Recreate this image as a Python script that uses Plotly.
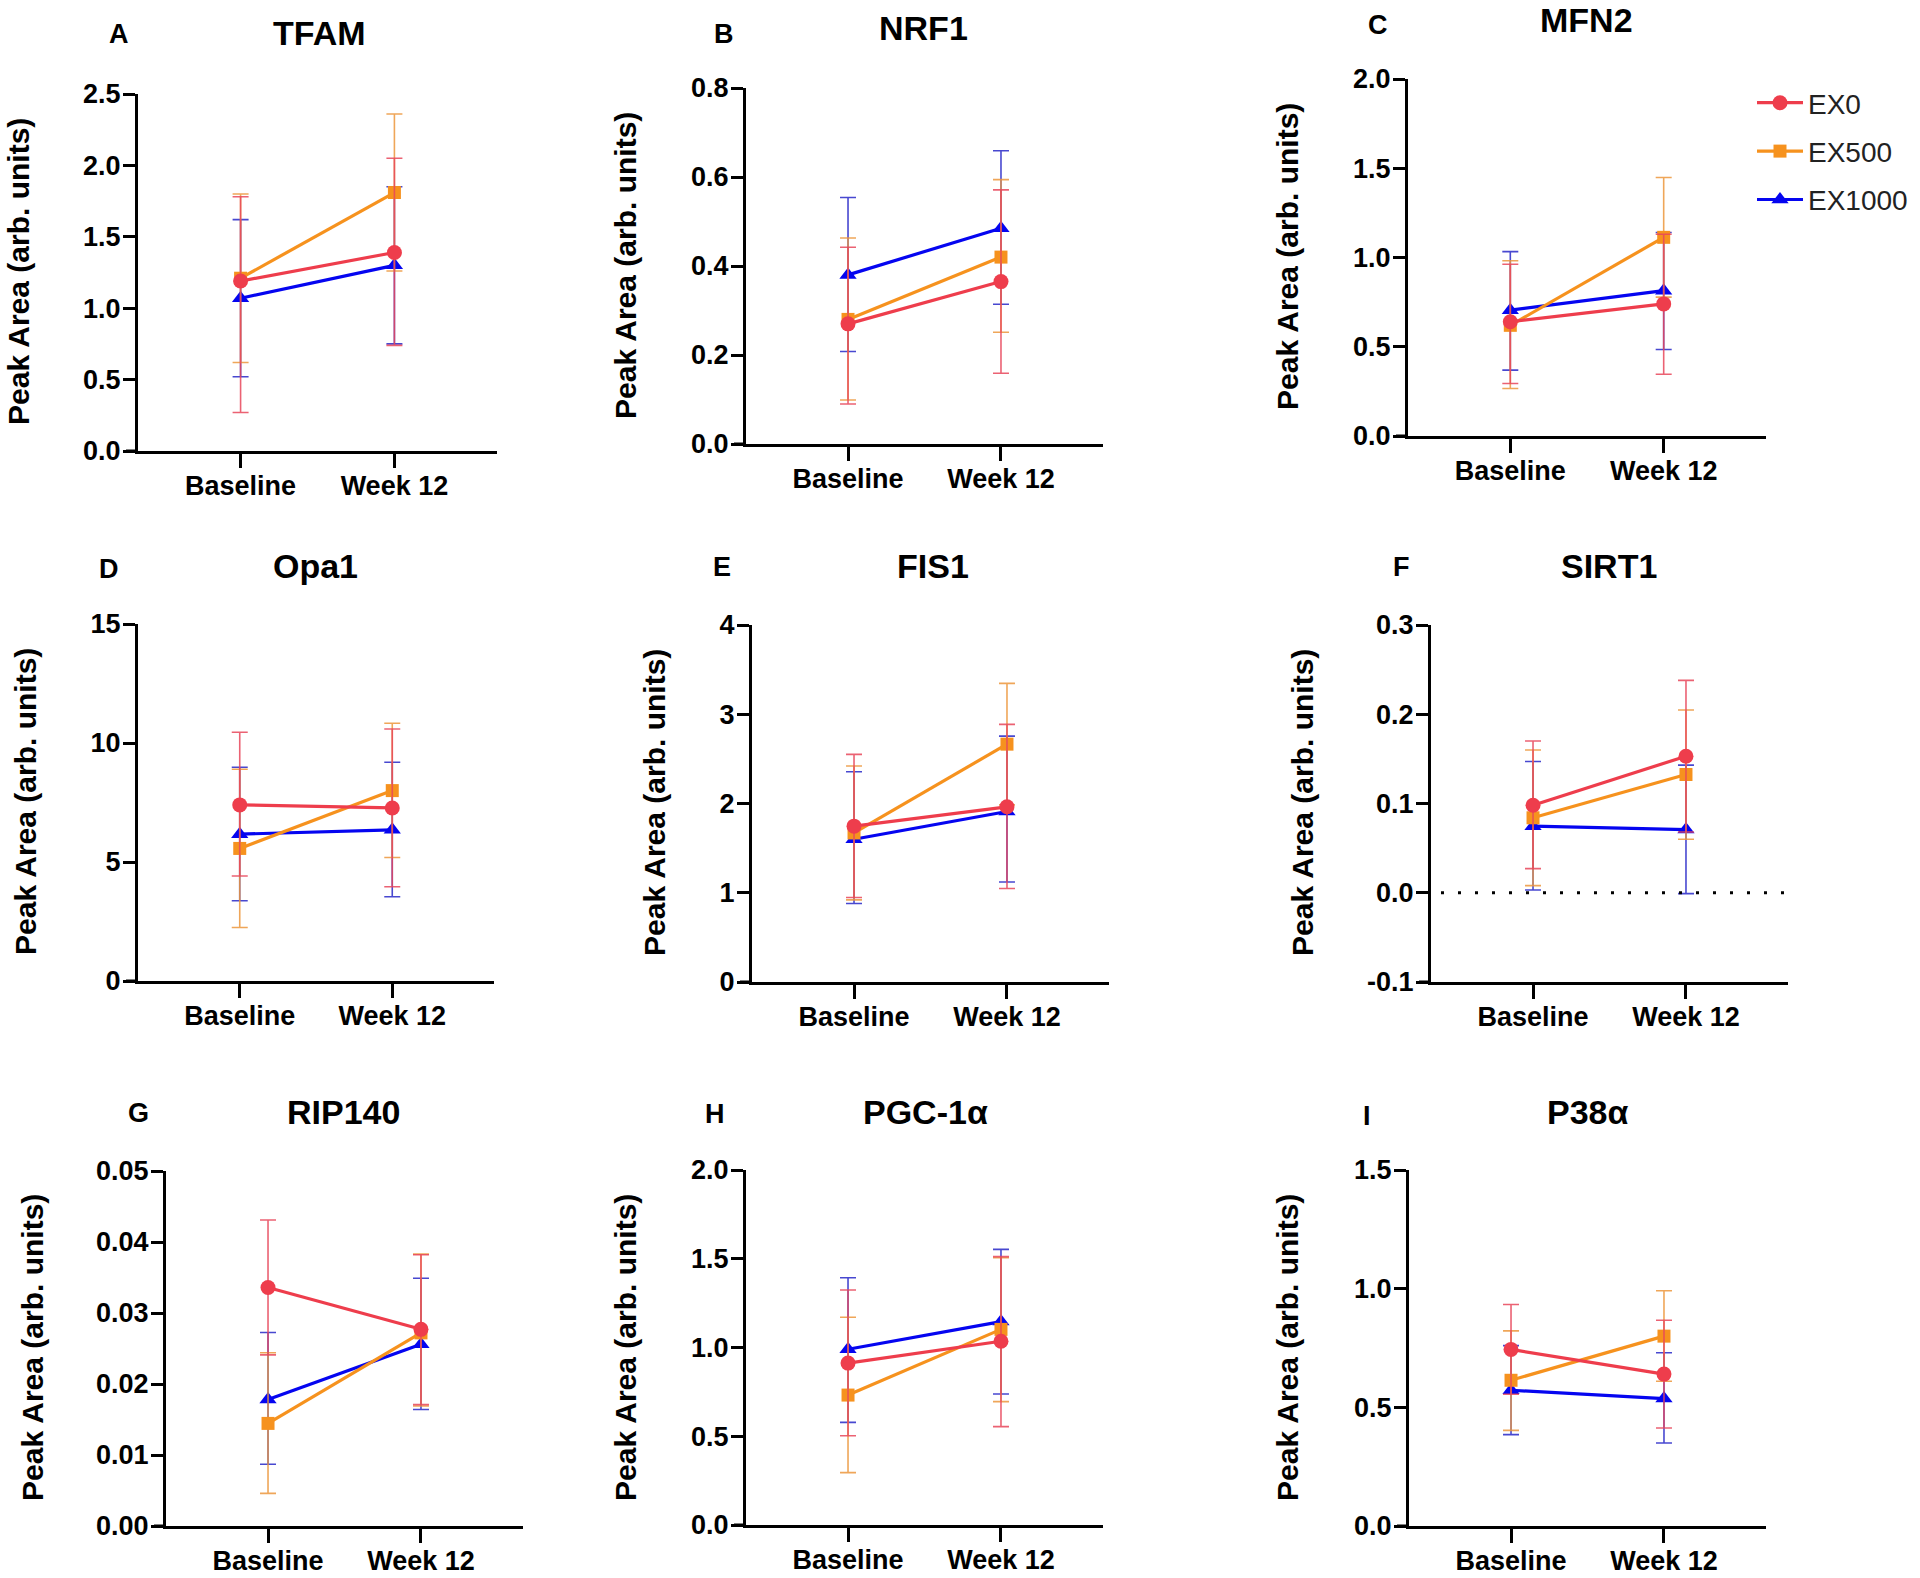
import plotly.graph_objects as go

W, H = 1920, 1578

# ---------------- data ----------------
time_points = ["Baseline", "Week 12"]
series_names = ["EX0", "EX500", "EX1000"]
panel_letters = ["A", "B", "C", "D", "E", "F", "G", "H", "I"]
panel_titles = ["TFAM", "NRF1", "MFN2", "Opa1", "FIS1", "SIRT1", "RIP140", "PGC-1α", "P38α"]

# mean values [Baseline, Week 12]; upper/lower = ends of the error bars
tfam_mean = {"EX0": [1.19, 1.39], "EX500": [1.21, 1.81], "EX1000": [1.07, 1.30]}
tfam_upper = {"EX0": [1.78, 2.05], "EX500": [1.80, 2.36], "EX1000": [1.62, 1.85]}
tfam_lower = {"EX0": [0.27, 0.74], "EX500": [0.62, 1.26], "EX1000": [0.52, 0.75]}

nrf1_mean = {"EX0": [0.27, 0.365], "EX500": [0.28, 0.42], "EX1000": [0.38, 0.485]}
nrf1_upper = {"EX0": [0.442, 0.571], "EX500": [0.463, 0.594], "EX1000": [0.554, 0.659]}
nrf1_lower = {"EX0": [0.09, 0.159], "EX500": [0.099, 0.251], "EX1000": [0.208, 0.314]}

mfn2_mean = {"EX0": [0.64, 0.74], "EX500": [0.62, 1.113], "EX1000": [0.705, 0.814]}
mfn2_upper = {"EX0": [0.962, 1.13], "EX500": [0.982, 1.448], "EX1000": [1.033, 1.14]}
mfn2_lower = {"EX0": [0.294, 0.346], "EX500": [0.266, 0.778], "EX1000": [0.369, 0.485]}

opa1_mean = {"EX0": [7.4, 7.27], "EX500": [5.57, 8.0], "EX1000": [6.17, 6.35]}
opa1_upper = {"EX0": [10.45, 10.59], "EX500": [8.9, 10.83], "EX1000": [8.98, 9.19]}
opa1_lower = {"EX0": [4.41, 3.96], "EX500": [2.25, 5.19], "EX1000": [3.37, 3.54]}

fis1_mean = {"EX0": [1.746, 1.963], "EX500": [1.67, 2.665], "EX1000": [1.60, 1.91]}
fis1_upper = {"EX0": [2.55, 2.886], "EX500": [2.42, 3.346], "EX1000": [2.355, 2.755]}
fis1_lower = {"EX0": [0.946, 1.047], "EX500": [0.92, 1.985], "EX1000": [0.88, 1.121]}

sirt1_mean = {"EX0": [0.098, 0.153], "EX500": [0.084, 0.1325], "EX1000": [0.0746, 0.0708]}
sirt1_upper = {"EX0": [0.170, 0.238], "EX500": [0.160, 0.2047], "EX1000": [0.147, 0.143]}
sirt1_lower = {"EX0": [0.027, 0.068], "EX500": [0.008, 0.060], "EX1000": [0.003, -0.001]}

rip140_mean = {"EX0": [0.0336, 0.0277], "EX500": [0.01445, 0.0272], "EX1000": [0.0178, 0.0256]}
rip140_upper = {"EX0": [0.0431, 0.0382], "EX500": [0.0244, 0.0383], "EX1000": [0.02725, 0.0349]}
rip140_lower = {"EX0": [0.0241, 0.0171], "EX500": [0.0046, 0.0169], "EX1000": [0.0087, 0.0164]}

pgc1a_mean = {"EX0": [0.912, 1.035], "EX500": [0.732, 1.102], "EX1000": [0.99, 1.146]}
pgc1a_upper = {"EX0": [1.324, 1.512], "EX500": [1.17, 1.506], "EX1000": [1.393, 1.553]}
pgc1a_lower = {"EX0": [0.503, 0.554], "EX500": [0.295, 0.695], "EX1000": [0.578, 0.738]}

p38a_mean = {"EX0": [0.744, 0.64], "EX500": [0.614, 0.80], "EX1000": [0.572, 0.537]}
p38a_upper = {"EX0": [0.933, 0.867], "EX500": [0.822, 0.991], "EX1000": [0.76, 0.73]}
p38a_lower = {"EX0": [0.555, 0.413], "EX500": [0.403, 0.61], "EX1000": [0.385, 0.35]}

# y-axis ticks
tfam_ticks = [0, 0.5, 1.0, 1.5, 2.0, 2.5]
tfam_ticklabels = ["0.0", "0.5", "1.0", "1.5", "2.0", "2.5"]
nrf1_ticks = [0, 0.2, 0.4, 0.6, 0.8]
nrf1_ticklabels = ["0.0", "0.2", "0.4", "0.6", "0.8"]
mfn2_ticks = [0, 0.5, 1.0, 1.5, 2.0]
mfn2_ticklabels = ["0.0", "0.5", "1.0", "1.5", "2.0"]
opa1_ticks = [0, 5, 10, 15]
opa1_ticklabels = ["0", "5", "10", "15"]
fis1_ticks = [0, 1, 2, 3, 4]
fis1_ticklabels = ["0", "1", "2", "3", "4"]
sirt1_ticks = [-0.1, 0.0, 0.1, 0.2, 0.3]
sirt1_ticklabels = ["-0.1", "0.0", "0.1", "0.2", "0.3"]
rip140_ticks = [0, 0.01, 0.02, 0.03, 0.04, 0.05]
rip140_ticklabels = ["0.00", "0.01", "0.02", "0.03", "0.04", "0.05"]
pgc1a_ticks = [0, 0.5, 1.0, 1.5, 2.0]
pgc1a_ticklabels = ["0.0", "0.5", "1.0", "1.5", "2.0"]
p38a_ticks = [0, 0.5, 1.0, 1.5]
p38a_ticklabels = ["0.0", "0.5", "1.0", "1.5"]

panels = [
    (tfam_mean, tfam_upper, tfam_lower, tfam_ticks, tfam_ticklabels),
    (nrf1_mean, nrf1_upper, nrf1_lower, nrf1_ticks, nrf1_ticklabels),
    (mfn2_mean, mfn2_upper, mfn2_lower, mfn2_ticks, mfn2_ticklabels),
    (opa1_mean, opa1_upper, opa1_lower, opa1_ticks, opa1_ticklabels),
    (fis1_mean, fis1_upper, fis1_lower, fis1_ticks, fis1_ticklabels),
    (sirt1_mean, sirt1_upper, sirt1_lower, sirt1_ticks, sirt1_ticklabels),
    (rip140_mean, rip140_upper, rip140_lower, rip140_ticks, rip140_ticklabels),
    (pgc1a_mean, pgc1a_upper, pgc1a_lower, pgc1a_ticks, pgc1a_ticklabels),
    (p38a_mean, p38a_upper, p38a_lower, p38a_ticks, p38a_ticklabels),
]

# ---------------- styling / layout ----------------
colors = {"EX0": "#EE3D4C", "EX500": "#F6921E", "EX1000": "#0505F0"}
err_colors = {"EX0": "rgba(232,70,90,0.85)", "EX500": "rgba(236,150,60,0.85)",
              "EX1000": "rgba(40,40,200,0.85)"}
symbols = {"EX0": "circle", "EX500": "square", "EX1000": "triangle-up"}
msizes = {"EX0": 15, "EX500": 13, "EX1000": 15}
draw_order = ["EX1000", "EX500", "EX0"]
legend_rank = {"EX0": 1, "EX500": 2, "EX1000": 3}

# plot-area pixel boxes: left, top, right, bottom
boxes = [
    (138, 94, 497, 451), (746, 88, 1103, 444), (1408, 79, 1766, 436),
    (138, 624, 494, 981), (752, 625, 1109, 982), (1431, 625, 1788, 982),
    (166, 1171, 523, 1526), (746, 1170, 1103, 1525), (1409, 1170, 1766, 1526),
]
title_pos = [(319, 33), (923, 28), (1586, 20), (315, 566), (933, 566), (1609, 566),
             (343, 1112), (925, 1112), (1587, 1112)]
letter_pos = [(119, 34), (724, 34), (1378, 25), (109, 569), (722, 567), (1401, 567),
              (138, 1113), (715, 1114), (1367, 1116)]
ytitle_pos = [(18, 272), (625, 266), (1287, 257), (25, 802), (654, 803), (1302, 803),
              (32, 1348), (625, 1348), (1287, 1348)]

FONT = "Liberation Sans, Arial, sans-serif"
XRANGE = [-0.667, 1.667]

fig = go.Figure()
annotations = []
shapes = []

for i, (mean, upper, lower, ticks, ticklabels) in enumerate(panels):
    k = i + 1
    xa = "x" if k == 1 else f"x{k}"
    ya = "y" if k == 1 else f"y{k}"
    for s in draw_order:
        m = mean[s]
        up = [u - v for u, v in zip(upper[s], m)]
        dn = [v - l for v, l in zip(m, lower[s])]
        fig.add_trace(go.Scatter(
            x=time_points, y=m, mode="lines+markers", name=s,
            legendgroup=s, legendrank=legend_rank[s], showlegend=(k == 1),
            xaxis=xa, yaxis=ya,
            line=dict(color=colors[s], width=3.2),
            marker=dict(color=colors[s], symbol=symbols[s], size=msizes[s]),
            error_y=dict(type="data", symmetric=False, array=up, arrayminus=dn,
                         color=err_colors[s], thickness=1.6, width=8),
            cliponaxis=False,
        ))

    L, T, R, B = boxes[i]
    xdom = [L / W, R / W]
    ydom = [1 - B / H, 1 - T / H]
    axis_common = dict(showline=True, linewidth=3, linecolor="black", ticks="outside",
                       tickwidth=3, tickcolor="black", showgrid=False, zeroline=False,
                       automargin=False,
                       tickfont=dict(family=FONT, size=27, color="black", weight="bold"))
    fig.update_layout(**{
        ("xaxis" if k == 1 else f"xaxis{k}"): dict(
            domain=xdom, anchor=ya, range=XRANGE, type="category",
            ticklen=14, ticklabelstandoff=-5, **axis_common),
        ("yaxis" if k == 1 else f"yaxis{k}"): dict(
            domain=ydom, anchor=xa, range=[ticks[0], ticks[-1]],
            tickvals=ticks, ticktext=ticklabels, ticklen=12, ticklabelstandoff=-3,
            **axis_common),
    })
    # x-axis line extension to the left (under y ticks)
    shapes.append(dict(type="line", xref=f"{xa} domain", yref=f"{ya} domain",
                       x0=-12 / (R - L), x1=0, y0=0, y1=0,
                       line=dict(color="black", width=3)))

    tx, ty = title_pos[i]
    annotations.append(dict(text=panel_titles[i], x=tx / W, y=1 - ty / H, xref="paper", yref="paper",
                            xanchor="center", yanchor="middle", showarrow=False,
                            font=dict(family=FONT, size=34, color="black", weight="bold")))
    lx, ly = letter_pos[i]
    annotations.append(dict(text=panel_letters[i], x=lx / W, y=1 - ly / H, xref="paper", yref="paper",
                            xanchor="center", yanchor="middle", showarrow=False,
                            font=dict(family=FONT, size=27, color="black", weight="bold")))
    yx, yy = ytitle_pos[i]
    annotations.append(dict(text="Peak Area (arb. units)", x=yx / W, y=1 - yy / H,
                            xref="paper", yref="paper", textangle=-90,
                            xanchor="center", yanchor="middle", showarrow=False,
                            font=dict(family=FONT, size=30, color="black", weight="bold")))

# dotted zero line in SIRT1 panel
shapes.append(dict(type="line", xref="x6 domain", yref="y6", x0=0.028, x1=0.994, y0=0, y1=0,
                   line=dict(color="black", width=3, dash="3px,14px")))

fig.update_layout(
    width=W, height=H, autosize=False,
    margin=dict(l=0, r=0, t=0, b=0, pad=0, autoexpand=False),
    paper_bgcolor="white", plot_bgcolor="white",
    annotations=annotations, shapes=shapes,
    showlegend=True,
    legend=dict(x=1752 / W, y=1 - 78 / H, xanchor="left", yanchor="top",
                font=dict(family=FONT, size=28, color="#222"),
                bgcolor="rgba(0,0,0,0)", tracegroupgap=9, itemwidth=46,
                traceorder="grouped"),
)

fig.write_html("out.html", config={"responsive": False, "displayModeBar": False},
               post_script="document.body.style.margin='0px';")
